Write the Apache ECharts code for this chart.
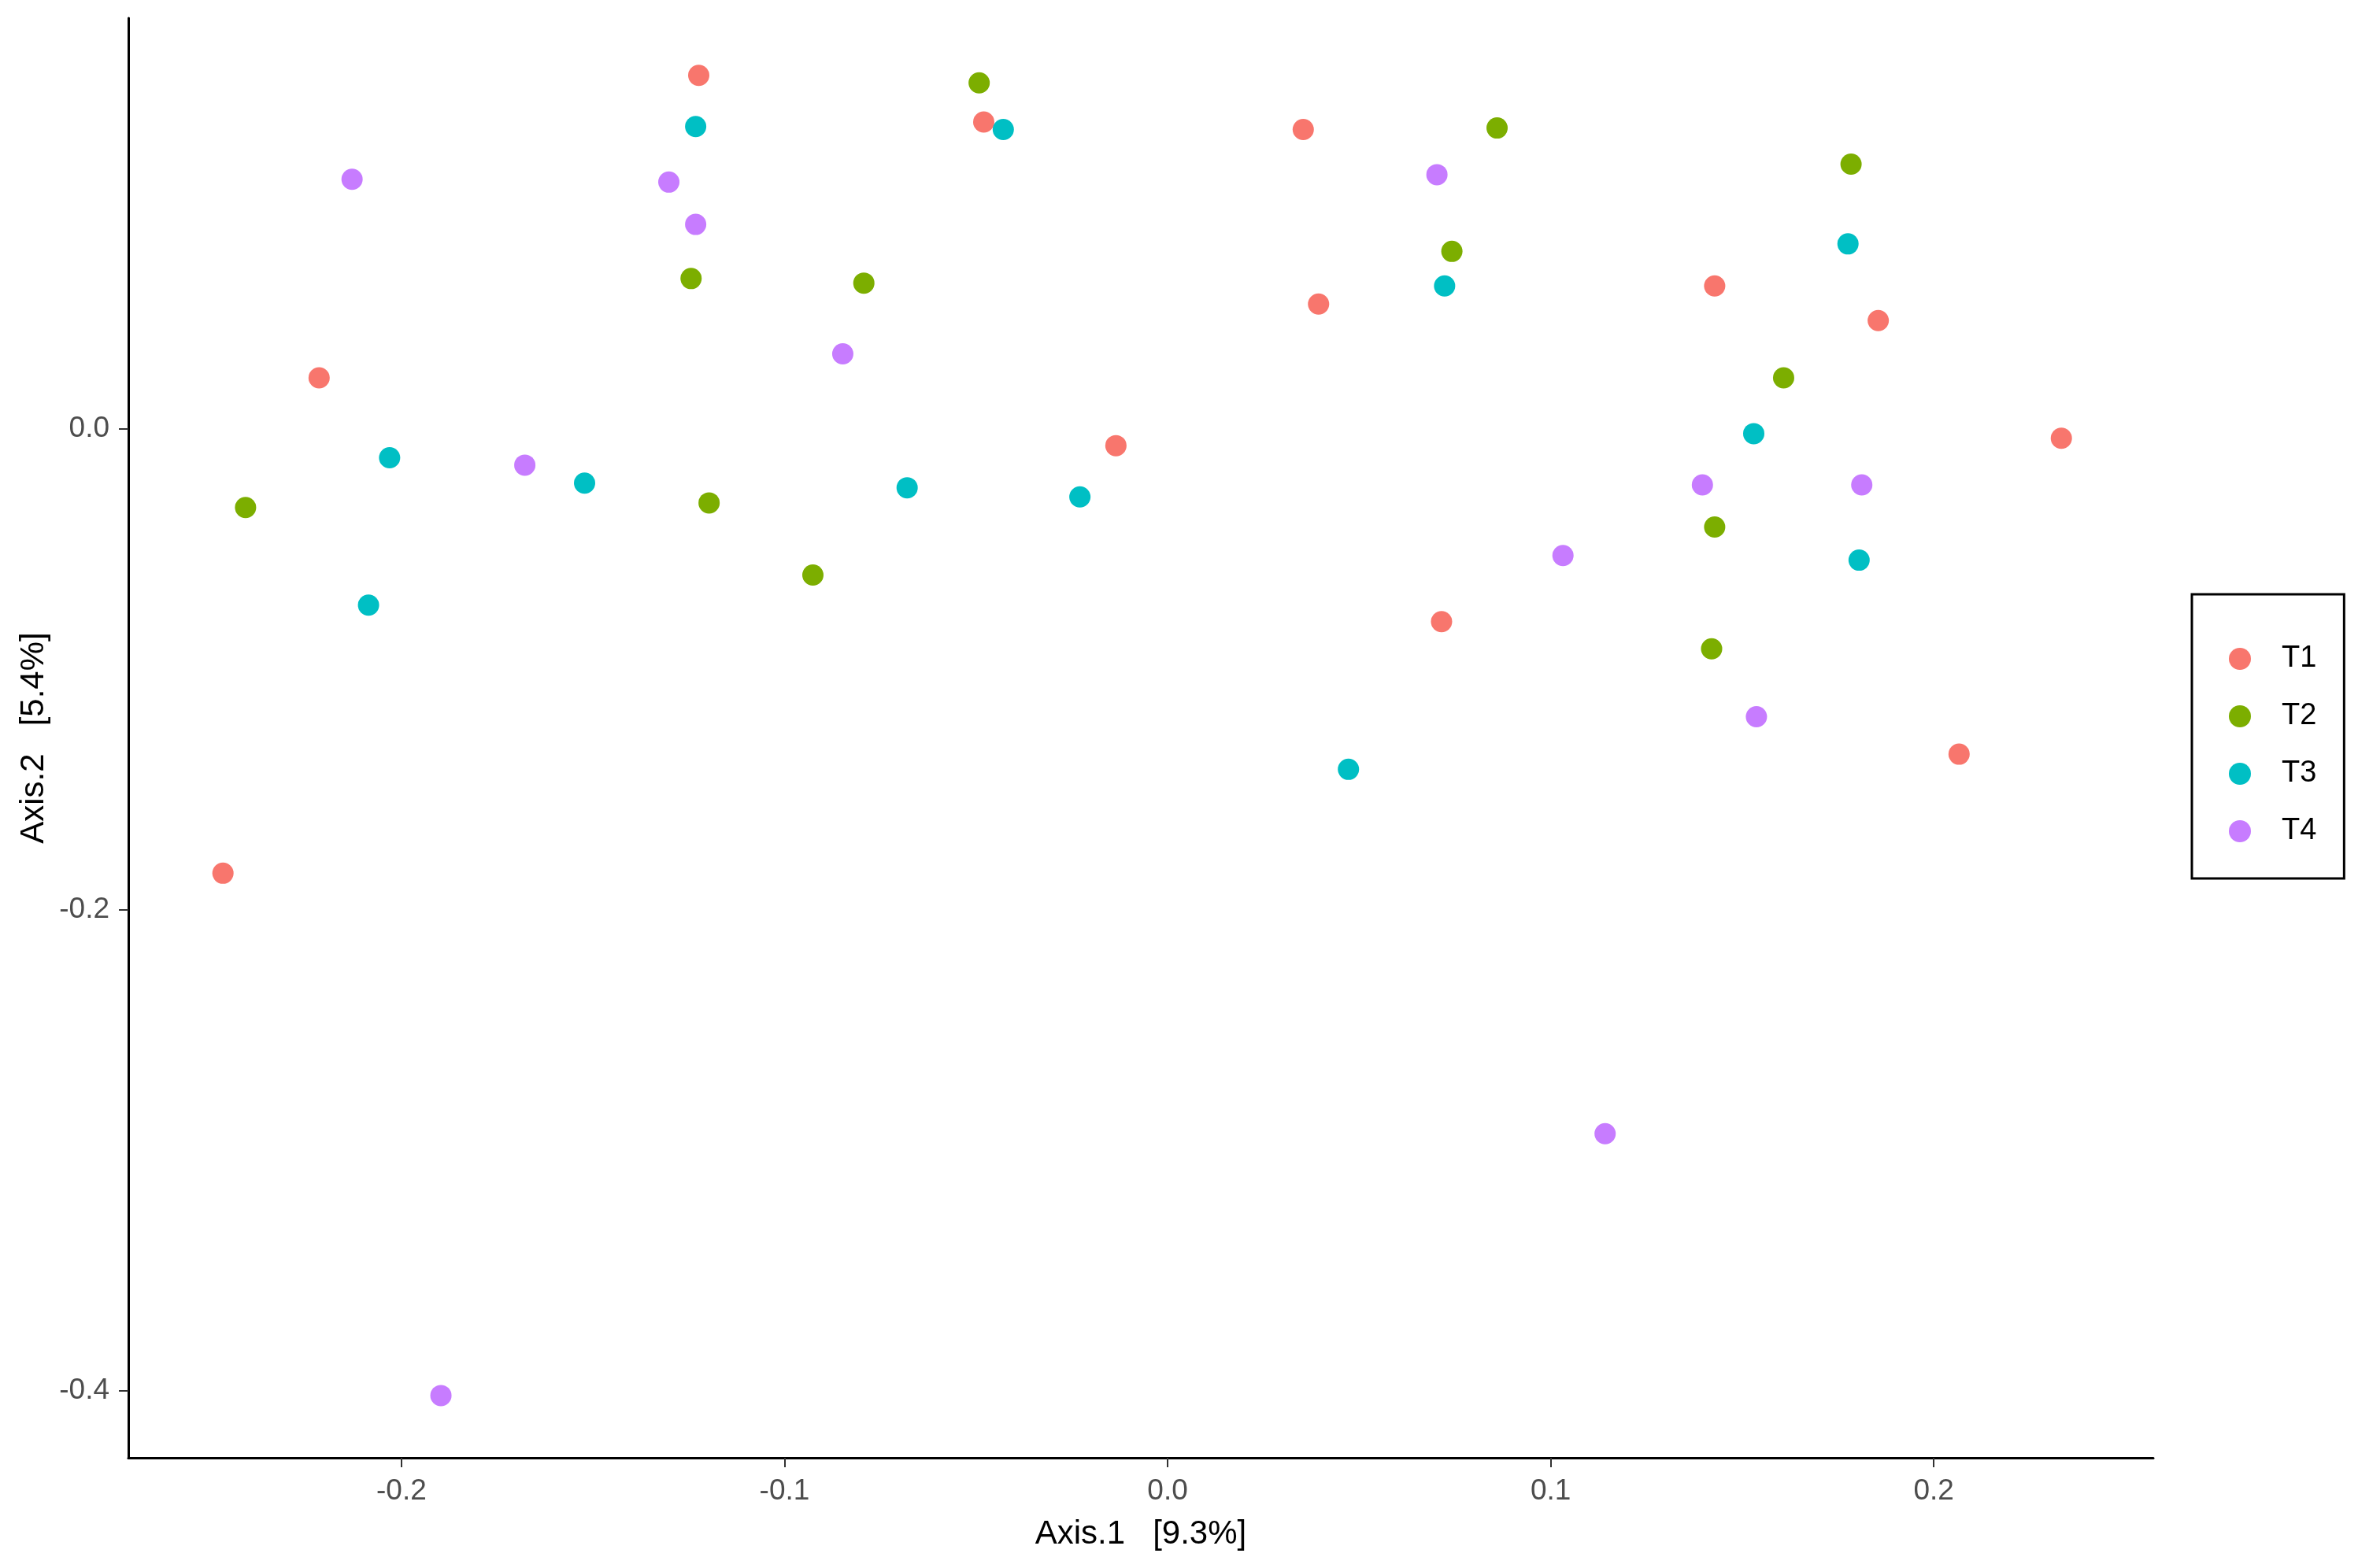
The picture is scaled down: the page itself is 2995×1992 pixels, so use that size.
<!DOCTYPE html>
<html>
<head>
<meta charset="utf-8">
<script src="https://cdn.jsdelivr.net/npm/echarts@6/dist/echarts.min.js"></script>
<style>html,body{margin:0;padding:0;background:#fff}#c{width:2995px;height:1992px}</style>
</head>
<body>
<div id="c"></div>
<script>
const groups = ['T1', 'T2', 'T3', 'T4'];
const colors = ['#F8766D', '#7CAE00', '#00BFC4', '#C77CFF'];
const xTicks = [-0.2, -0.1, 0.0, 0.1, 0.2];
const yTicks = [-0.4, -0.2, 0.0];
const xName = 'Axis.1   [9.3%]';
const yName = 'Axis.2   [5.4%]';

const t1x = [-0.1224, -0.0480, 0.0354, 0.0394, -0.2215, 0.1428, 0.1855, -0.0135, 0.2333, 0.0715, 0.2066, -0.2466];
const t1y = [0.1471, 0.1277, 0.1246, 0.0520, 0.0213, 0.0595, 0.0451, -0.0069, -0.0038, -0.0801, -0.1352, -0.1847];
const t2x = [-0.0492, 0.0860, 0.1784, 0.0742, -0.1244, -0.0793, 0.1608, -0.2407, -0.1197, -0.0926, 0.1428, 0.1420];
const t2y = [0.1440, 0.1252, 0.1102, 0.0739, 0.0626, 0.0607, 0.0213, -0.0326, -0.0307, -0.0607, -0.0407, -0.0914];
const t3x = [-0.1232, -0.0429, 0.1776, 0.0723, 0.1530, -0.2031, -0.1522, -0.0680, -0.0229, -0.2086, 0.1805, 0.0472];
const t3y = [0.1258, 0.1246, 0.0770, 0.0595, -0.0019, -0.0119, -0.0225, -0.0244, -0.0282, -0.0732, -0.0545, -0.1415];
const t4x = [-0.2129, -0.1302, 0.0703, -0.1232, -0.0848, -0.1678, 0.1396, 0.1812, 0.1032, 0.1537, 0.1142, -0.1897];
const t4y = [0.1039, 0.1027, 0.1058, 0.0851, 0.0313, -0.0150, -0.0232, -0.0232, -0.0526, -0.1196, -0.2930, -0.4019];

const xs = [t1x, t2x, t3x, t4x];
const ys = [t1y, t2y, t3y, t4y];

const series = groups.map((g, i) => ({
  name: g,
  type: 'scatter',
  symbol: 'circle',
  symbolSize: 27,
  itemStyle: { color: colors[i], opacity: 1 },
  emphasis: { disabled: true },
  data: xs[i].map((x, k) => [x, ys[i][k]])
}));

const chart = echarts.init(document.getElementById('c'), null, { renderer: 'canvas' });
chart.setOption({
  animation: false,
  backgroundColor: '#ffffff',
  textStyle: { fontFamily: 'Liberation Sans, Arial, sans-serif' },
  grid: { left: 163, right: 260, top: 23, bottom: 140, containLabel: false },
  xAxis: {
    type: 'value',
    min: -0.2713,
    max: 0.2573,
    name: xName,
    nameLocation: 'middle',
    nameGap: 76,
    nameTextStyle: { fontSize: 42, color: '#000000', fontFamily: 'Liberation Sans, Arial, sans-serif' },
    splitLine: { show: false },
    axisLine: { show: true, onZero: false, lineStyle: { color: '#000000', width: 3 } },
    axisTick: { show: true, length: 12, customValues: xTicks, lineStyle: { color: '#333333', width: 2 } },
    axisLabel: { customValues: xTicks, margin: 24, fontSize: 37, color: '#4D4D4D', formatter: v => v.toFixed(1) }
  },
  yAxis: {
    type: 'value',
    min: -0.4278,
    max: 0.1709,
    name: yName,
    nameLocation: 'middle',
    nameGap: 96,
    nameRotate: 90,
    nameTextStyle: { fontSize: 42, color: '#000000', fontFamily: 'Liberation Sans, Arial, sans-serif' },
    splitLine: { show: false },
    axisLine: { show: true, onZero: false, lineStyle: { color: '#000000', width: 3 } },
    axisTick: { show: true, length: 12, customValues: yTicks, lineStyle: { color: '#333333', width: 2 } },
    axisLabel: { customValues: yTicks, margin: 24, fontSize: 37, color: '#4D4D4D', formatter: v => v.toFixed(1) }
  },
  legend: {
    data: groups,
    orient: 'vertical',
    left: 2784,
    top: 755,
    padding: [63, 35, 41, 47],
    itemGap: 35,
    itemWidth: 28,
    itemHeight: 28,
    icon: 'circle',
    borderColor: '#000000',
    borderWidth: 3,
    borderRadius: 0,
    textStyle: { fontSize: 38, lineHeight: 38, color: '#000000', padding: [0, 0, 0, 34], fontFamily: 'Liberation Sans, Arial, sans-serif' }
  },
  series: series
});
</script>
</body>
</html>
